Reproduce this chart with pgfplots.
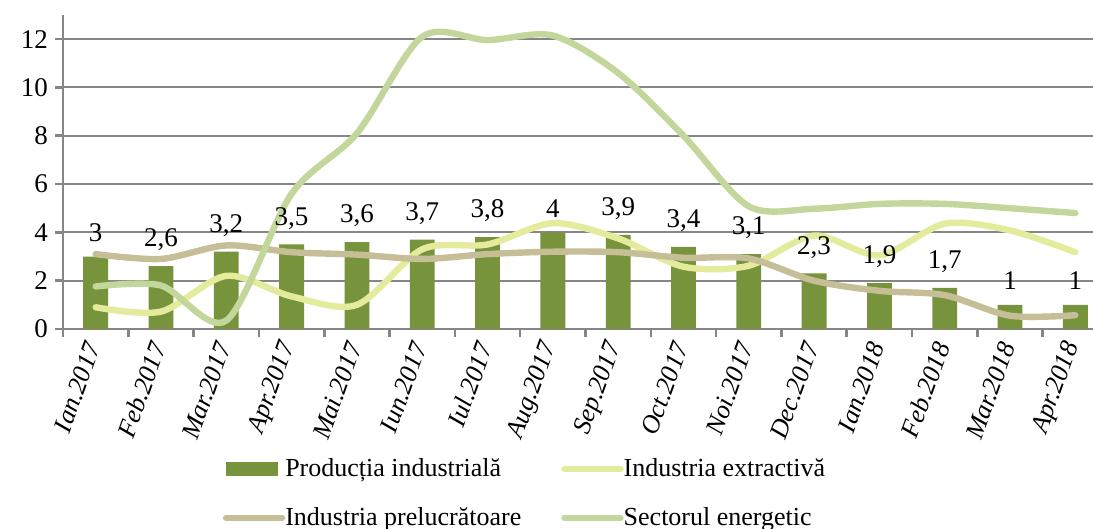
\documentclass[border=0pt]{standalone}
\usepackage{fontspec}
\setmainfont{Liberation Serif}
\usepackage{pgfplots}
\pgfplotsset{compat=1.18}
\definecolor{barcol}{RGB}{119,147,60}
\definecolor{extrcol}{RGB}{228,235,156}
\definecolor{prelcol}{RGB}{197,190,151}
\definecolor{energcol}{RGB}{195,214,155}
\definecolor{gridcol}{RGB}{134,134,134}
\newcommand{\chfont}{\fontsize{13.5}{16}\selectfont}

\begin{document}
\begin{tikzpicture}
\begin{axis}[
  at={(0,0)}, anchor=south west,
  scale only axis, width=515pt, height=157pt,
  xmin=-0.5, xmax=15.27, ymin=0, ymax=13,
  /pgf/number format/assume math mode=true,
  axis x line*=bottom, axis y line*=left,
  axis line style={gridcol, line width=1.3pt, -},
  ytick={0,2,...,12},
  ymajorgrids, grid style={gridcol, line width=1pt},
  tick style={gridcol, line width=1.3pt},
  tick align=outside, major tick length=4pt,
  xtick={-0.5,0.5,...,14.5}, xticklabels={},
  extra x ticks={0,...,15},
  extra x tick labels={Ian.2017,Feb.2017,Mar.2017,Apr.2017,Mai.2017,Iun.2017,Iul.2017,Aug.2017,Sep.2017,Oct.2017,Noi.2017,Dec.2017,Ian.2018,Feb.2018,Mar.2018,Apr.2018},
  extra x tick style={tick style={draw=none}},
  xticklabel style={font=\fontsize{13}{15}\selectfont\itshape, rotate=70, anchor=east},
  yticklabel style={font=\chfont},
  legend columns=2,
  legend cell align=left,
  legend style={draw=none, fill=none, at={(0.149,-0.385)}, anchor=north west,
    font=\fontsize{13}{15}\selectfont, row sep=10pt,
    nodes={inner xsep=0pt},
    /tikz/every even column/.append style={column sep=20pt}},
  lineleg/.style={legend image code/.code={\draw[##1] (0pt,0pt) -- (28pt,0pt);}},
]
\addplot[ybar, bar width=0.38, fill=barcol, draw=none,
  legend image code/.code={\fill[barcol] (0pt,-3.5pt) rectangle (26pt,3.5pt);}]
  coordinates {(0,3)(1,2.6)(2,3.2)(3,3.5)(4,3.6)(5,3.7)(6,3.8)(7,4)
    (8,3.9)(9,3.4)(10,3.1)(11,2.3)(12,1.9)(13,1.7)(14,1)(15,1)};
\addlegendentry{Producția industrială}
\addplot[extrcol, line width=3.2pt, smooth, line cap=round, mark=none, lineleg]
  coordinates {(0,0.9)(1,0.72)(2,2.2)(3,1.35)(4,1.0)(5,3.3)(6,3.5)(7,4.38)
    (8,3.75)(9,2.58)(10,2.62)(11,3.87)(12,3.05)(13,4.36)(14,4.08)(15,3.18)};
\addlegendentry{Industria extractivă}
\addplot[prelcol, line width=3.2pt, smooth, line cap=round, mark=none, lineleg]
  coordinates {(0,3.1)(1,2.9)(2,3.46)(3,3.18)(4,3.08)(5,2.9)(6,3.1)(7,3.2)
    (8,3.18)(9,2.95)(10,2.92)(11,2.0)(12,1.58)(13,1.4)(14,0.55)(15,0.57)};
\addlegendentry{Industria prelucrătoare}
\addplot[energcol, line width=3.2pt, smooth, line cap=round, mark=none, lineleg]
  coordinates {(0,1.76)(1,1.8)(2,0.35)(3,5.6)(4,8.1)(5,12.1)(6,11.96)(7,12.15)
    (8,10.6)(9,8.0)(10,5.08)(11,4.98)(12,5.18)(13,5.18)(14,5.0)(15,4.8)};
\addlegendentry{Sectorul energetic}
\addplot[draw=none, mark=none, forget plot, point meta=y, nodes near coords,
  nodes near coords style={font=\chfont, text=black, anchor=south, yshift=4pt,
    /pgf/number format/use comma}]
  coordinates {(0,3)(1,2.6)(2,3.2)(3,3.5)(4,3.6)(5,3.7)(6,3.8)(7,4)
    (8,3.9)(9,3.4)(10,3.1)(11,2.3)(12,1.9)(13,1.7)(14,1)(15,1)};
\end{axis}
\pgfresetboundingbox
\useasboundingbox (-31.5pt,-100pt) rectangle (515pt,164.5pt);
\end{tikzpicture}
\end{document}
